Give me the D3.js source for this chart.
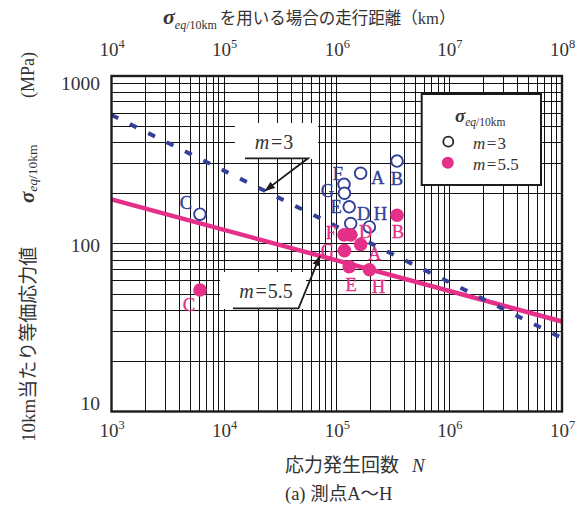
<!DOCTYPE html>
<html>
<head>
<meta charset="utf-8">
<script src="https://cdn.jsdelivr.net/npm/d3@7"></script>
<style>
  body { margin: 0; background: #fff; }
  svg { display: block; }
</style>
</head>
<body>
<svg id="chart" width="584" height="509"></svg>
<script>
// ---- data ----
const decadesN = [1e3, 1e4, 1e5, 1e6, 1e7];          // stress cycles N (bottom)
const decadesKm = [1e4, 1e5, 1e6, 1e7, 1e8];         // running distance km (top)
const stressTicks = [10, 100, 1000];                 // MPa
const pointIds = ["A", "B", "C", "D", "E", "F", "G", "H"];
const cycles   = [163000, 343000, 6100, 133000, 129000, 116000, 117000, 195000];
const sigmaM3  = [263, 311, 150, 132, 166, 226, 200, 126];
const sigmaM55 = [99, 148, 53, 113, 73, 113, 91, 70];
const lineN    = [1e3, 1e7];
const lineM3   = [586, 27.4];
const lineM55  = [184, 34.4];

// ---- layout ----
const plot = { left: 111.5, right: 562, top: 76, bottom: 411.5 };
const x = d3.scaleLog().domain([1e3, 1e7]).range([plot.left, plot.right]);
const xTop = d3.scaleLog().domain([1e4, 1e8]).range([plot.left, plot.right]);
const y = d3.scaleLog().domain([10, 1000]).range([plot.bottom, plot.top]);

const BLUE = "#333f98", PINK = "#e5308a", INK = "#333", FRAME = "#1c1c1c";
const SERIF = "'Liberation Serif','Times New Roman',serif";
const JP = "'Liberation Serif','Noto Sans CJK JP',sans-serif";

const svg = d3.select("#chart");

const defs = svg.append("defs");
defs.append("marker").attr("id", "head")
  .attr("viewBox", "0 0 10 10").attr("refX", 10).attr("refY", 5)
  .attr("markerWidth", 10).attr("markerHeight", 10).attr("markerUnits", "userSpaceOnUse")
  .attr("orient", "auto")
  .append("path").attr("d", "M0,1 L10,5 L0,9 Z").attr("fill", FRAME);

// ---- grid (all log subdivisions) ----
const grid = svg.append("g").attr("stroke", "#111").attr("stroke-width", 1)
  .attr("shape-rendering", "crispEdges");
grid.selectAll("line.v").data(x.ticks()).join("line").attr("class", "v")
  .attr("x1", d => x(d)).attr("x2", d => x(d))
  .attr("y1", plot.top).attr("y2", plot.bottom);
grid.selectAll("line.h").data(y.ticks()).join("line").attr("class", "h")
  .attr("x1", plot.left).attr("x2", plot.right)
  .attr("y1", d => y(d)).attr("y2", d => y(d));

// white panels behind the callout texts
svg.append("rect").attr("x", 235).attr("y", 123).attr("width", 83).attr("height", 36).attr("fill", "#fff");
svg.append("rect").attr("x", 220).attr("y", 272).attr("width", 86).attr("height", 37).attr("fill", "#fff");

// ---- S-N lines ----
const logInterp = (ys, n) => {
  const t = (Math.log10(n) - Math.log10(lineN[0])) / (Math.log10(lineN[1]) - Math.log10(lineN[0]));
  return Math.pow(10, Math.log10(ys[0]) + t * (Math.log10(ys[1]) - Math.log10(ys[0])));
};
const line = d3.line().x(d => x(d[0])).y(d => y(d[1]));
svg.append("path").datum(d3.zip(lineN, lineM55)).attr("d", line)
  .attr("fill", "none").attr("stroke", PINK).attr("stroke-width", 4.5);
svg.append("path").datum(d3.zip(lineN, lineM3)).attr("d", line)
  .attr("fill", "none").attr("stroke", BLUE).attr("stroke-width", 4)
  .attr("stroke-dasharray", "7.5 13");

// ---- frame ----
svg.append("rect").attr("x", plot.left).attr("y", plot.top)
  .attr("width", plot.right - plot.left).attr("height", plot.bottom - plot.top)
  .attr("fill", "none").attr("stroke", FRAME).attr("stroke-width", 2.4);

// ---- measurement points ----
const pts = pointIds.map((id, i) => ({ id, n: cycles[i], s3: sigmaM3[i], s55: sigmaM55[i] }));
const off3 = { A: [17, 5], B: [0, 18], C: [-14, -11], D: [13, -10], E: [-13, 0], F: [-6, -10], G: [-17, -2], H: [11, -13] };
const off55 = { A: [14, 10], B: [1, 17], C: [-11, 15], D: [15, -3], E: [2, 18], F: [-13, -2], G: [-17, 0], H: [9, 17] };

svg.append("g").selectAll("circle").data(pts).join("circle")
  .attr("cx", d => x(d.n)).attr("cy", d => y(d.s3)).attr("r", 5.8)
  .attr("fill", "#fff").attr("stroke", BLUE).attr("stroke-width", 1.9);
svg.append("g").selectAll("circle").data(pts).join("circle")
  .attr("cx", d => x(d.n)).attr("cy", d => y(d.s55)).attr("r", 6.8)
  .attr("fill", PINK);

function pointLabels(color, key, off) {
  svg.append("g").attr("font-family", SERIF).attr("font-size", 18.5).attr("fill", color)
    .attr("stroke", color).attr("stroke-width", 0.35)
    .attr("text-anchor", "middle").attr("dominant-baseline", "central")
    .selectAll("text").data(pts).join("text")
    .attr("x", d => x(d.n) + off[d.id][0]).attr("y", d => y(d[key]) + off[d.id][1])
    .text(d => d.id);
}
pointLabels(BLUE, "s3", off3);
pointLabels(PINK, "s55", off55);

// ---- callouts ----
function callout(label, cx, cy, ux1, ux2, uy, targetN, ys) {
  const t = svg.append("text").attr("x", cx).attr("y", cy).attr("text-anchor", "middle")
    .attr("dominant-baseline", "central").attr("font-family", SERIF).attr("font-size", 20).attr("fill", INK);
  t.append("tspan").attr("font-style", "italic").text("m");
  t.append("tspan").attr("dx", 2).text("=");
  t.append("tspan").attr("dx", 1).text(label);
  svg.append("path")
    .attr("d", `M${ux1},${uy} L${ux2},${uy} L${x(targetN)},${y(logInterp(ys, targetN))}`)
    .attr("fill", "none").attr("stroke", FRAME).attr("stroke-width", 1.8)
    .attr("marker-end", "url(#head)");
}
callout("3", 274, 142, 245, 308, 158.3, 23000, lineM3);
callout("5.5", 266, 291, 233, 298.5, 308.3, 71000, lineM55);

// ---- legend ----
const lg = svg.append("g");
lg.append("rect").attr("x", 421.7).attr("y", 94).attr("width", 119.3).attr("height", 91)
  .attr("fill", "#fff").attr("stroke", FRAME).attr("stroke-width", 2);
const lt = lg.append("text").attr("x", 455).attr("y", 122).attr("font-family", SERIF).attr("fill", INK);
lt.append("tspan").attr("font-size", 19).attr("font-weight", "bold").attr("font-style", "italic").text("σ");
lt.append("tspan").attr("font-size", 11.5).attr("font-style", "italic").attr("dy", 4).text("eq");
lt.append("tspan").attr("font-size", 11.5).text("/10km");
lg.append("circle").attr("cx", 448.3).attr("cy", 141.7).attr("r", 5).attr("fill", "#fff")
  .attr("stroke", "#222").attr("stroke-width", 1.8);
lg.append("circle").attr("cx", 447.8).attr("cy", 162.7).attr("r", 6).attr("fill", PINK);
[["3", 142.7], ["5.5", 163.5]].forEach(([v, yy]) => {
  const t = lg.append("text").attr("x", 473).attr("y", yy).attr("dominant-baseline", "central")
    .attr("font-family", SERIF).attr("font-size", 17).attr("fill", INK);
  t.append("tspan").attr("font-style", "italic").text("m");
  t.append("tspan").attr("dx", 1.5).text("=");
  t.append("tspan").attr("dx", 1).text(v);
});

// ---- axes (labels only; the grid carries the ticks) ----
function powerLabels(sel) {
  sel.selectAll(".tick text").each(function (d) {
    const t = d3.select(this).text(null).attr("dy", null)
      .attr("font-family", SERIF).attr("font-size", 19).attr("fill", INK);
    t.append("tspan").text("10");
    t.append("tspan").attr("font-size", 12.5).attr("dy", -8).text(Math.round(Math.log10(d)));
  });
}
const gB = svg.append("g").attr("transform", `translate(0,${plot.bottom})`)
  .call(d3.axisBottom(x).tickValues(decadesN).tickSize(0).tickFormat(""));
gB.select(".domain").remove();
gB.selectAll(".tick text").attr("y", 25.5);
powerLabels(gB);

const gT = svg.append("g").attr("transform", `translate(0,${plot.top})`)
  .call(d3.axisTop(xTop).tickValues(decadesKm).tickSize(0).tickFormat(""));
gT.select(".domain").remove();
gT.selectAll(".tick text").attr("y", -20);
powerLabels(gT);

const yNudge = { 10: -8.2, 100: 1.2, 1000: 7.3 };
const gL = svg.append("g").attr("transform", `translate(${plot.left},0)`)
  .call(d3.axisLeft(y).tickValues(stressTicks).tickSize(0).tickFormat(d3.format("d")));
gL.select(".domain").remove();
gL.selectAll(".tick text").attr("x", -11.5).attr("dy", null)
  .attr("y", d => yNudge[d]).attr("dominant-baseline", "central")
  .attr("font-family", SERIF).attr("font-size", 19.5).attr("fill", INK);

// ---- titles ----
const topTitle = svg.append("text").attr("x", 163).attr("y", 24).attr("fill", INK).attr("font-family", SERIF);
topTitle.append("tspan").attr("font-size", 22).attr("font-weight", "bold").attr("font-style", "italic").text("σ");
topTitle.append("tspan").attr("font-size", 12).attr("font-style", "italic").attr("dy", 5).text("eq");
topTitle.append("tspan").attr("font-size", 12).text("/10km");
topTitle.append("tspan").attr("dx", 3).attr("dy", -5).attr("font-family", JP).attr("font-size", 16.5)
  .text("を用いる場合の走行距離（km）");

const xt = svg.append("text").attr("x", 285).attr("y", 465).attr("dominant-baseline", "central")
  .attr("fill", INK).attr("font-family", JP).attr("font-size", 19);
xt.append("tspan").text("応力発生回数");
xt.append("tspan").attr("dx", 13).attr("font-family", SERIF).attr("font-style", "italic").text("N");

svg.append("text").attr("x", 285).attr("y", 494).attr("dominant-baseline", "central")
  .attr("fill", INK).attr("font-family", JP).attr("font-size", 18.5).text("(a)  測点A〜H");

// vertical stress title, read bottom to top
svg.append("text").attr("transform", "translate(28,442) rotate(-90)")
  .attr("dominant-baseline", "central").attr("fill", INK).attr("font-family", JP).attr("font-size", 19)
  .text("10km当たり等価応力値");
const yt2 = svg.append("text").attr("transform", "translate(27,203) rotate(-90)")
  .attr("dominant-baseline", "central").attr("fill", INK).attr("font-family", SERIF);
yt2.append("tspan").attr("font-size", 21).attr("font-weight", "bold").attr("font-style", "italic").text("σ");
yt2.append("tspan").attr("font-size", 13.5).attr("font-style", "italic").attr("dy", 5).text("eq");
yt2.append("tspan").attr("font-size", 13.5).text("/10km");
svg.append("text").attr("transform", "translate(28,98) rotate(-90)")
  .attr("dominant-baseline", "central").attr("fill", INK).attr("font-family", SERIF).attr("font-size", 18)
  .text("(MPa)");
</script>
</body>
</html>
